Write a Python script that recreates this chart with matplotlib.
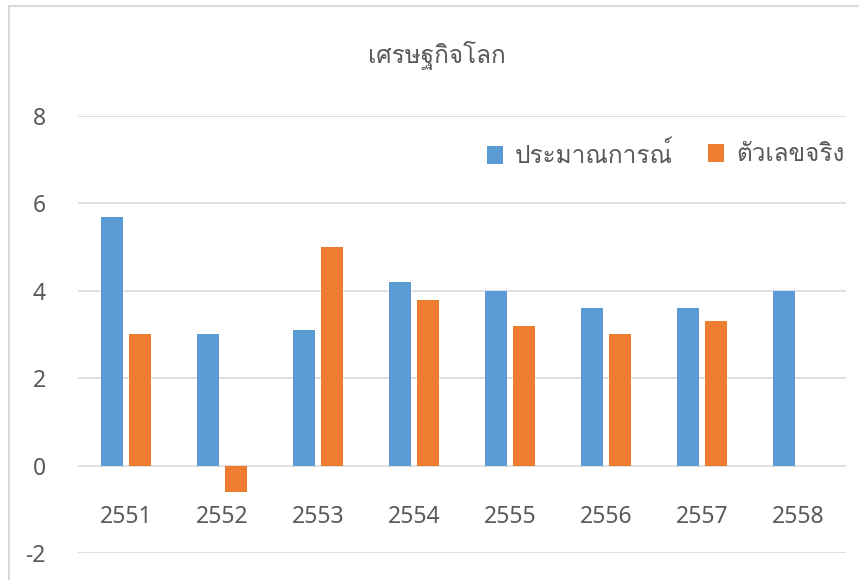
import matplotlib
matplotlib.use("Agg")
import matplotlib.pyplot as plt
from matplotlib import font_manager, ft2font
import numpy as np

years = ["2551", "2552", "2553", "2554", "2555", "2556", "2557", "2558"]
forecast = [5.7, 3.0, 3.1, 4.2, 4.0, 3.6, 3.6, 4.0]
actual = [3.0, -0.6, 5.0, 3.8, 3.2, 3.0, 3.3, np.nan]
series_names = ["ประมาณการณ์", "ตัวเลขจริง"]
title = "เศรษฐกิจโลก"
yticks = [-2, 0, 2, 4, 6, 8]

# find a font with Thai glyphs
thai_fams = []
for f in font_manager.fontManager.ttflist:
    try:
        cm = ft2font.FT2Font(f.fname).get_charmap()
        if 0x0E01 in cm and f.name not in thai_fams:
            thai_fams.append(f.name)
    except Exception:
        pass
fams = thai_fams[:1] + ["Noto Sans", "DejaVu Sans"]
plt.rcParams['font.family'] = fams

BLUE = "#5B9BD5"
ORANGE = "#ED7D31"
TXT = "#595959"
GRID = "#D9D9D9"

fig = plt.figure(figsize=(8.59, 5.80), dpi=100)
# outer chart border (top and left visible)
fig.add_artist(plt.Line2D([8.5/859, 1.0], [1-6/580, 1-6/580], color=GRID, lw=1.5))
fig.add_artist(plt.Line2D([8.5/859, 8.5/859], [0, 1-6/580], color=GRID, lw=1.5))

ax = fig.add_axes([78/859, 1-553/580, (846-78)/859, (553-116)/580])
x = np.arange(len(years))
w = 0.23
off = 0.143
b1 = ax.bar(x - off, forecast, w, color=BLUE, label=series_names[0], zorder=3)
b2 = ax.bar(x + off, actual, w, color=ORANGE, label=series_names[1], zorder=3)

ax.set_xlim(-0.5, len(years) - 0.5)
ax.set_ylim(-2, 8)
ax.set_yticks(yticks)
ax.set_yticklabels([str(v) for v in yticks], fontfamily=["Noto Sans"], fontsize=16.5, color=TXT)
ax.tick_params(axis='y', length=0, pad=23)
ax.set_xticks([])
for s in ax.spines.values():
    s.set_visible(False)
for v in yticks:
    ax.axhline(v, color=GRID, lw=1.2, zorder=1)
for xi, lab in zip(x, years):
    ax.text(xi, -1.17, lab, ha='center', va='center', fontsize=16.5,
            color=TXT, fontfamily=["Noto Sans"])

fig.text(437/859, 1-55/580, title, ha='center', va='center', fontsize=17.5,
         color=TXT)

leg_kw = dict(loc='center left', bbox_transform=fig.transFigure, frameon=False,
              fontsize=17.5, handlelength=0.66, handleheight=0.78, handletextpad=0.5,
              borderaxespad=0, borderpad=0)
leg1 = ax.legend([b1], [series_names[0]], bbox_to_anchor=(487/859, 1-155/580), **leg_kw)
ax.add_artist(leg1)
leg2 = ax.legend([b2], [series_names[1]], bbox_to_anchor=(708/859, 1-155/580), **leg_kw)
for lg in (leg1, leg2):
    for t in lg.get_texts():
        t.set_color(TXT)

fig.savefig("out.png", dpi=100)
